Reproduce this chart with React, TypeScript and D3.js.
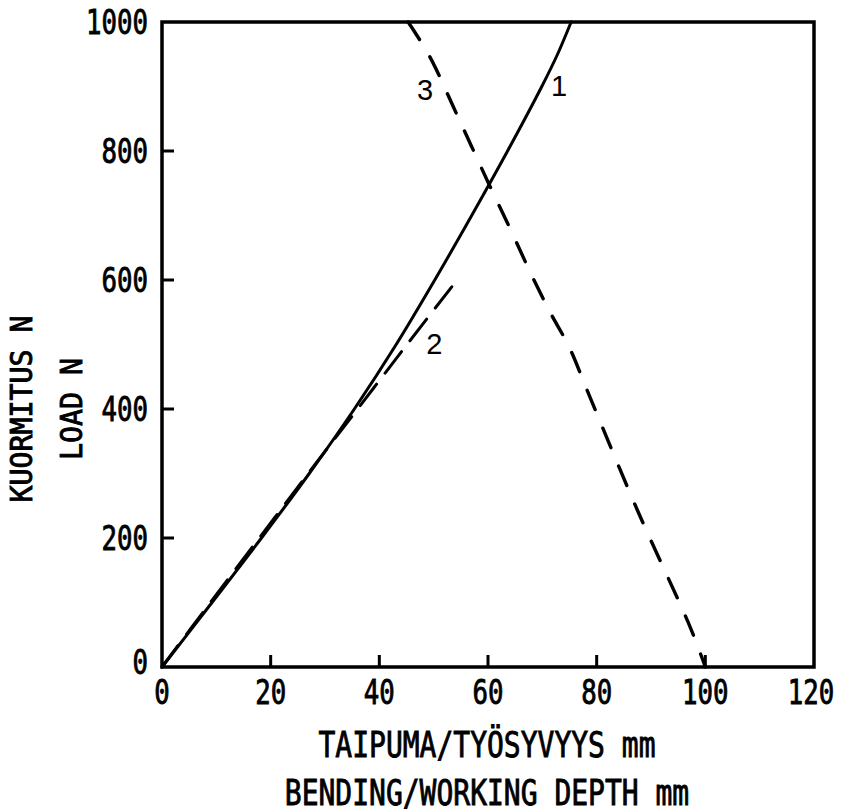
import React, { useEffect, useRef } from 'react';
import * as d3 from 'd3';

// tick values
const X_TICKS = [0, 20, 40, 60, 80, 100, 120];
const Y_TICKS = [0, 200, 400, 600, 800, 1000];

// curve 1 (solid): bending mm vs load N
const CURVE1_X = [0, 9.2, 18.3, 27.1, 35.4, 43.1, 50.2, 57.0, 63.6, 69.9, 72.8, 75.3];
const CURVE1_Y = [0, 100, 200, 300, 400, 500, 600, 700, 800, 900, 950, 1000];

// curve 2 (dashed)
const CURVE2_X = [0, 8.9, 17.9, 26.9, 36.0, 45.1, 54.3];
const CURVE2_Y = [0, 100, 200, 300, 400, 500, 600];

// curve 3 (dashed): working depth
const CURVE3_X = [45.3, 49.3, 54.3, 60.1, 64.6, 68.0, 71.5, 75.0, 78.2, 87.5, 97.3, 100];
const CURVE3_Y = [1000, 946, 856, 750, 670, 608, 549, 495, 430, 243, 60, 0];

// curve number labels, in data units
const LABEL_TEXT = ['1', '2', '3'];
const LABEL_X = [73.1, 50.1, 48.4];
const LABEL_Y = [902, 502, 895];

const X_TITLE = ['TAIPUMA/TYÖSYVYYS mm', 'BENDING/WORKING DEPTH mm'];
const Y_TITLE = ['KUORMITUS N', 'LOAD N'];

const App = () => {
  const svgRef = useRef(null);

  useEffect(() => {
    const svg = d3.select(svgRef.current);
    svg.selectAll('*').remove();

    const margin = { top: 22, right: 31, bottom: 145, left: 162 };
    const W = 845, H = 812;
    const width = W - margin.left - margin.right;
    const height = H - margin.top - margin.bottom;

    const g = svg.append('g').attr('transform', `translate(${margin.left},${margin.top})`);

    const x = d3.scaleLinear().domain([0, 120]).range([0, width]);
    const y = d3.scaleLinear().domain([0, 1000]).range([height, 0]);

    const mono = '"DejaVu Sans Mono", "Liberation Mono", monospace';

    // plotter-ish lettering: regular mono with a thin outline
    const letter = sel => sel
      .style('font-family', mono)
      .attr('stroke', '#000')
      .attr('stroke-width', 0.9)
      .attr('fill', '#000')
      .attr('lengthAdjust', 'spacingAndGlyphs');

    // frame
    g.append('rect')
      .attr('x', 0).attr('y', 0)
      .attr('width', width).attr('height', height)
      .attr('fill', 'none')
      .attr('stroke', '#000')
      .attr('stroke-width', 3.5);

    // inward ticks
    g.selectAll('.xt')
      .data(X_TICKS.slice(1, -1))
      .enter().append('line')
      .attr('x1', d => x(d)).attr('x2', d => x(d))
      .attr('y1', height).attr('y2', height - 12)
      .attr('stroke', '#000').attr('stroke-width', 3);

    g.selectAll('.yt')
      .data(Y_TICKS.slice(1, -1))
      .enter().append('line')
      .attr('x1', 0).attr('x2', 12)
      .attr('y1', d => y(d)).attr('y2', d => y(d))
      .attr('stroke', '#000').attr('stroke-width', 3);

    // tick labels
    const charW = 15.5;
    g.selectAll('.xl')
      .data(X_TICKS)
      .enter().append('text')
      .attr('x', d => x(d) - (d === 120 ? 3 : 0))
      .attr('y', height + 37)
      .attr('text-anchor', 'middle')
      .attr('textLength', d => String(d).length * charW)
      .call(letter)
      .style('font-size', '34px')
      .text(d => d);

    g.selectAll('.yl')
      .data(Y_TICKS)
      .enter().append('text')
      .attr('x', -14)
      .attr('y', d => y(d))
      .attr('dy', d => d === 0 ? '0.22em' : '0.36em')
      .attr('text-anchor', 'end')
      .attr('textLength', d => String(d).length * charW)
      .call(letter)
      .style('font-size', '34px')
      .text(d => d);

    // axis titles
    const titleX = width / 2 - 1;
    X_TITLE.forEach((t, i) => {
      g.append('text')
        .attr('x', titleX)
        .attr('y', height + 90 + i * 48)
        .attr('text-anchor', 'middle')
        .attr('textLength', t.length * 16.85)
        .call(letter)
        .style('font-size', '35px')
        .text(t);
    });

    Y_TITLE.forEach((t, i) => {
      svg.append('text')
        .attr('transform', `translate(${32 + i * 50},${409})rotate(-90)`)
        .attr('text-anchor', 'middle')
        .attr('textLength', t.length * 17)
        .call(letter)
        .style('font-size', '30px')
        .text(t);
    });

    // curves
    const line = d3.line()
      .x(d => x(d[0]))
      .y(d => y(d[1]))
      .curve(d3.curveCatmullRom.alpha(0.5));

    const series = [
      { xs: CURVE1_X, ys: CURVE1_Y, dash: null, w: 3 },
      { xs: CURVE2_X, ys: CURVE2_Y, dash: '27 14', w: 3 },
      { xs: CURVE3_X, ys: CURVE3_Y, dash: '21 20', w: 3.4 },
    ];

    series.forEach(s => {
      g.append('path')
        .datum(s.xs.map((v, i) => [v, s.ys[i]]))
        .attr('fill', 'none')
        .attr('stroke', '#000')
        .attr('stroke-width', s.w)
        .attr('stroke-linecap', 'round')
        .attr('stroke-dasharray', s.dash)
        .attr('d', line);
    });

    // curve numbers
    LABEL_TEXT.forEach((t, i) => {
      g.append('text')
        .attr('x', x(LABEL_X[i]))
        .attr('y', y(LABEL_Y[i]))
        .attr('dy', '0.36em')
        .attr('text-anchor', 'middle')
        .style('font-family', '"Liberation Sans", Arial, sans-serif')
        .style('font-size', '29px')
        .text(t);
    });
  }, []);

  return (
    <svg
      ref={svgRef}
      width={845}
      height={812}
      style={{ position: 'absolute', left: 0, top: 0, background: '#fff' }}
    />
  );
};

export default App;
